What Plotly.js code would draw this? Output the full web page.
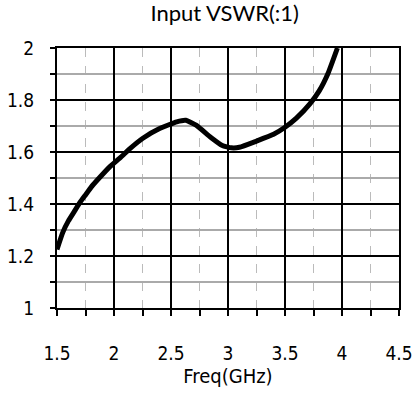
<!DOCTYPE html>
<html>
<head>
<meta charset="utf-8">
<script src="https://cdn.plot.ly/plotly-3.0.1.min.js"></script>
<style>html,body{margin:0;padding:0;background:#fff;}#chart{width:420px;height:399px;}</style>
</head>
<body>
<div id="chart"></div>
<script>
const freq = [1.5, 1.55, 1.6, 1.65, 1.7, 1.75, 1.8, 1.86, 1.96, 2.06, 2.14, 2.25, 2.4, 2.55, 2.63, 2.72, 2.85, 2.95, 3.03, 3.1, 3.25, 3.4, 3.5, 3.6, 3.72, 3.8, 3.88, 3.96];
const vswr = [1.225, 1.29, 1.335, 1.37, 1.405, 1.435, 1.465, 1.495, 1.542, 1.58, 1.613, 1.652, 1.69, 1.716, 1.722, 1.703, 1.656, 1.625, 1.616, 1.618, 1.642, 1.668, 1.695, 1.73, 1.786, 1.835, 1.905, 2.0];
const xTicks = [1.5, 2, 2.5, 3, 3.5, 4, 4.5];
const yTicks = [1, 1.2, 1.4, 1.6, 1.8, 2];

const tickFont = {family: 'DejaVu Sans Condensed, DejaVu Sans, sans-serif', size: 19, color: '#000'};

Plotly.newPlot('chart', [{
  x: freq, y: vswr, type: 'scatter', mode: 'lines',
  line: {color: '#000', width: 5, shape: 'spline', smoothing: 0.4},
  hoverinfo: 'skip', showlegend: false
}], {
  width: 420, height: 399,
  margin: {l: 57, r: 21, t: 48, b: 91},
  paper_bgcolor: '#fff', plot_bgcolor: '#fff',
  title: {text: 'Input VSWR(:1)', x: 0.535, xanchor: 'center', yref: 'container', y: 0.985, yanchor: 'top',
          font: {family: 'Lato, Open Sans, sans-serif', size: 22, color: '#000'}},
  xaxis: {
    range: [1.5, 4.5], tickvals: xTicks, ticktext: xTicks.map(String),
    showgrid: true, gridcolor: '#000', gridwidth: 2,
    ticks: 'outside', ticklen: 6, tickwidth: 2, tickcolor: '#000',
    ticklabelstandoff: 21,
    showline: true, linecolor: '#000', linewidth: 2, mirror: true,
    zeroline: false, tickfont: tickFont,
    minor: {dtick: 0.25, tick0: 1.5, showgrid: true, gridcolor: '#bbbbbb', gridwidth: 1, griddash: 'dash',
            ticks: 'outside', ticklen: 6, tickwidth: 2, tickcolor: '#000'},
    title: {text: 'Freq(GHz)', font: {family: 'DejaVu Sans Condensed, DejaVu Sans, sans-serif', size: 20, color: '#000'}, standoff: 6}
  },
  yaxis: {
    range: [1, 2], tickvals: yTicks, ticktext: yTicks.map(String),
    showgrid: true, gridcolor: '#000', gridwidth: 2,
    ticks: 'outside', ticklen: 5, tickwidth: 2, tickcolor: '#000',
    ticklabelstandoff: 12,
    showline: true, linecolor: '#000', linewidth: 2, mirror: true,
    zeroline: false, tickfont: tickFont,
    minor: {dtick: 0.1, tick0: 1, showgrid: true, gridcolor: '#aaaaaa', gridwidth: 1.5,
            ticks: 'outside', ticklen: 5, tickwidth: 2, tickcolor: '#000'}
  }
}, {staticPlot: true, displayModeBar: false});
</script>
</body>
</html>
